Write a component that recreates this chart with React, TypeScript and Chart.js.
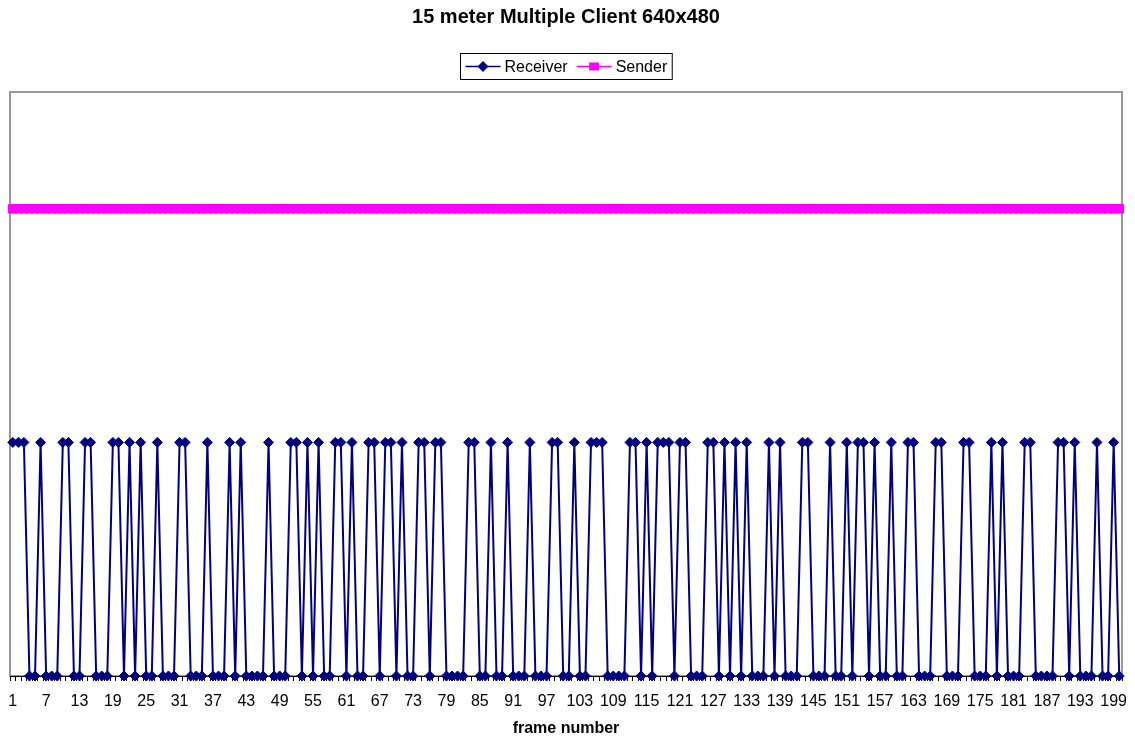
import React, { useEffect, useRef } from 'react';
import { Chart, registerables } from 'chart.js';

Chart.register(...registerables);

const TITLE = '15 meter Multiple Client 640x480';
const X_TITLE = 'frame number';
const FRAME_COUNT = 200;
const FRAMES: string[] = Array.from({ length: FRAME_COUNT }, (_, i) => String(i + 1));

const TICK_LABELS = [
  '1', '7', '13', '19', '25', '31', '37', '43', '49', '55', '61', '67', '73', '79', '85', '91', '97',
  '103', '109', '115', '121', '127', '133', '139', '145', '151', '157', '163', '169', '175', '181',
  '187', '193', '199',
];

// frames 1..200
const RECEIVER = [
  1, 1, 1, 0, 0, 1, 0, 0, 0, 1, 1, 0, 0, 1, 1, 0, 0, 0, 1, 1, 0, 1, 0, 1, 0, 0, 1, 0, 0, 0, 1, 1, 0,
  0, 0, 1, 0, 0, 0, 1, 0, 1, 0, 0, 0, 0, 1, 0, 0, 0, 1, 1, 0, 1, 0, 1, 0, 0, 1, 1, 0, 1, 0, 0, 1, 1,
  0, 1, 1, 0, 1, 0, 0, 1, 1, 0, 1, 1, 0, 0, 0, 0, 1, 1, 0, 0, 1, 0, 0, 1, 0, 0, 0, 1, 0, 0, 0, 1, 1, 0,
  0, 1, 0, 0, 1, 1, 1, 0, 0, 0, 0, 1, 1, 0, 1, 0, 1, 1, 1, 0, 1, 1, 0, 0, 0, 1, 1, 0, 1, 0, 1, 0, 1,
  0, 0, 0, 1, 0, 1, 0, 0, 0, 1, 1, 0, 0, 0, 1, 0, 0, 1, 0, 1, 1, 0, 1, 0, 0, 1, 0, 0, 1, 1, 0, 0, 0,
  1, 1, 0, 0, 0, 1, 1, 0, 0, 0, 1, 0, 1, 0, 0, 0, 1, 1, 0, 0, 0, 0, 1, 1, 0, 1, 0, 0, 0, 1, 0, 0, 1, 0,
];

const SENDER = [
  2, 2, 2, 2, 2, 2, 2, 2, 2, 2, 2, 2, 2, 2, 2, 2, 2, 2, 2, 2,
  2, 2, 2, 2, 2, 2, 2, 2, 2, 2, 2, 2, 2, 2, 2, 2, 2, 2, 2, 2,
  2, 2, 2, 2, 2, 2, 2, 2, 2, 2, 2, 2, 2, 2, 2, 2, 2, 2, 2, 2,
  2, 2, 2, 2, 2, 2, 2, 2, 2, 2, 2, 2, 2, 2, 2, 2, 2, 2, 2, 2,
  2, 2, 2, 2, 2, 2, 2, 2, 2, 2, 2, 2, 2, 2, 2, 2, 2, 2, 2, 2,
  2, 2, 2, 2, 2, 2, 2, 2, 2, 2, 2, 2, 2, 2, 2, 2, 2, 2, 2, 2,
  2, 2, 2, 2, 2, 2, 2, 2, 2, 2, 2, 2, 2, 2, 2, 2, 2, 2, 2, 2,
  2, 2, 2, 2, 2, 2, 2, 2, 2, 2, 2, 2, 2, 2, 2, 2, 2, 2, 2, 2,
  2, 2, 2, 2, 2, 2, 2, 2, 2, 2, 2, 2, 2, 2, 2, 2, 2, 2, 2, 2,
  2, 2, 2, 2, 2, 2, 2, 2, 2, 2, 2, 2, 2, 2, 2, 2, 2, 2, 2, 2,
];

const Y_MIN = 0;
const Y_MAX = 2.5;

const FONT = '"Liberation Sans", Arial, Helvetica, sans-serif';
const NAVY = '#000080';
const MAGENTA = '#FF00FF';

const decorPlugin = {
  id: 'decor',
  beforeDraw(chart: any) {
    const { ctx, chartArea: a } = chart;
    ctx.save();
    ctx.fillStyle = '#ffffff';
    ctx.fillRect(0, 0, chart.width, chart.height);
    ctx.strokeStyle = '#9a9a9a';
    ctx.lineWidth = 2;
    ctx.strokeRect(a.left, a.top, a.right - a.left, a.bottom - a.top);
    ctx.restore();
  },
  afterDraw(chart: any) {
    const { ctx, chartArea: a } = chart;
    const cx = (a.left + a.right) / 2;
    ctx.save();
    // title
    ctx.fillStyle = '#000';
    ctx.textAlign = 'center';
    ctx.textBaseline = 'middle';
    ctx.font = `bold 20px ${FONT}`;
    ctx.fillText(TITLE, cx, 17);
    // x axis title
    ctx.font = `bold 16px ${FONT}`;
    ctx.fillText(X_TITLE, cx, 729);

    // legend
    const ds = chart.data.datasets;
    ctx.font = `16px ${FONT}`;
    const sampleW = 35;
    const gap = 4;
    const itemGap = 9;
    const widths = ds.map((d: any) => sampleW + gap + ctx.measureText(d.label).width);
    const total = widths.reduce((s: number, w: number) => s + w, 0) + itemGap * (ds.length - 1);
    const padX = 5;
    const boxW = total + padX * 2;
    const boxH = 26;
    const boxX = Math.round(cx - boxW / 2) + 0.5;
    const boxY = 53.5;
    ctx.strokeStyle = '#000';
    ctx.lineWidth = 1;
    ctx.strokeRect(boxX, boxY, boxW, boxH);
    let x = boxX + padX;
    const ly = boxY + boxH / 2;
    ds.forEach((d: any, i: number) => {
      ctx.strokeStyle = d.borderColor;
      ctx.lineWidth = 1.5;
      ctx.beginPath();
      ctx.moveTo(x, ly);
      ctx.lineTo(x + sampleW, ly);
      ctx.stroke();
      const mx = x + sampleW / 2;
      ctx.fillStyle = d.pointBackgroundColor;
      ctx.beginPath();
      if (d.pointStyle === 'rectRot') {
        ctx.moveTo(mx, ly - 5.5);
        ctx.lineTo(mx + 5.5, ly);
        ctx.lineTo(mx, ly + 5.5);
        ctx.lineTo(mx - 5.5, ly);
        ctx.closePath();
        ctx.fill();
      } else {
        ctx.rect(mx - 5, ly - 4, 10, 8);
        ctx.fill();
      }
      ctx.fillStyle = '#000';
      ctx.textAlign = 'left';
      ctx.fillText(d.label, x + sampleW + gap, ly + 1);
      x += widths[i] + itemGap;
    });
    ctx.restore();
  },
};

export default function App() {
  const canvasRef = useRef<HTMLCanvasElement | null>(null);

  useEffect(() => {
    if (!canvasRef.current) return;
    const chart = new Chart(canvasRef.current, {
      type: 'line',
      data: {
        labels: FRAMES,
        datasets: [
          {
            label: 'Receiver',
            data: RECEIVER,
            borderColor: NAVY,
            backgroundColor: NAVY,
            pointBackgroundColor: NAVY,
            pointBorderColor: NAVY,
            pointStyle: 'rectRot',
            pointRadius: 5,
            pointBorderWidth: 1,
            borderWidth: 2,
            tension: 0,
            clip: false,
          },
          {
            label: 'Sender',
            data: SENDER,
            borderColor: MAGENTA,
            backgroundColor: MAGENTA,
            pointBackgroundColor: MAGENTA,
            pointBorderColor: MAGENTA,
            pointStyle: 'rect',
            pointRadius: 6,
            pointBorderWidth: 1,
            borderWidth: 2,
            tension: 0,
            clip: false,
          },
        ],
      },
      options: {
        responsive: false,
        animation: false,
        devicePixelRatio: 1,
        layout: { padding: { top: 92, left: 10, right: 13, bottom: 0 } },
        plugins: {
          legend: { display: false },
          title: { display: false },
          tooltip: { enabled: false },
        },
        scales: {
          x: {
            type: 'category',
            offset: true,
            grid: {
              display: true,
              drawOnChartArea: false,
              drawTicks: true,
              tickLength: 5,
              color: '#000',
              tickColor: '#000',
              offset: true,
            },
            border: { display: true, color: '#000', width: 1 },
            ticks: {
              autoSkip: false,
              maxRotation: 0,
              minRotation: 0,
              padding: 11,
              color: '#000',
              font: { family: FONT, size: 16 },
              callback: function (this: any, value: any, index: number) {
                const lbl = FRAMES[index];
                return TICK_LABELS.includes(lbl) ? lbl : '';
              },
            },
            afterFit: (scale: any) => {
              scale.height = 62;
              scale.paddingLeft = 0;
              scale.paddingRight = 0;
            },
          },
          y: {
            display: false,
            min: Y_MIN,
            max: Y_MAX,
          },
        },
      },
      plugins: [decorPlugin],
    });
    return () => chart.destroy();
  }, []);

  return (
    <div style={{ position: 'absolute', left: 0, top: 0, width: 1135, height: 738, background: '#fff' }}>
      <canvas ref={canvasRef} width={1135} height={738} />
    </div>
  );
}
